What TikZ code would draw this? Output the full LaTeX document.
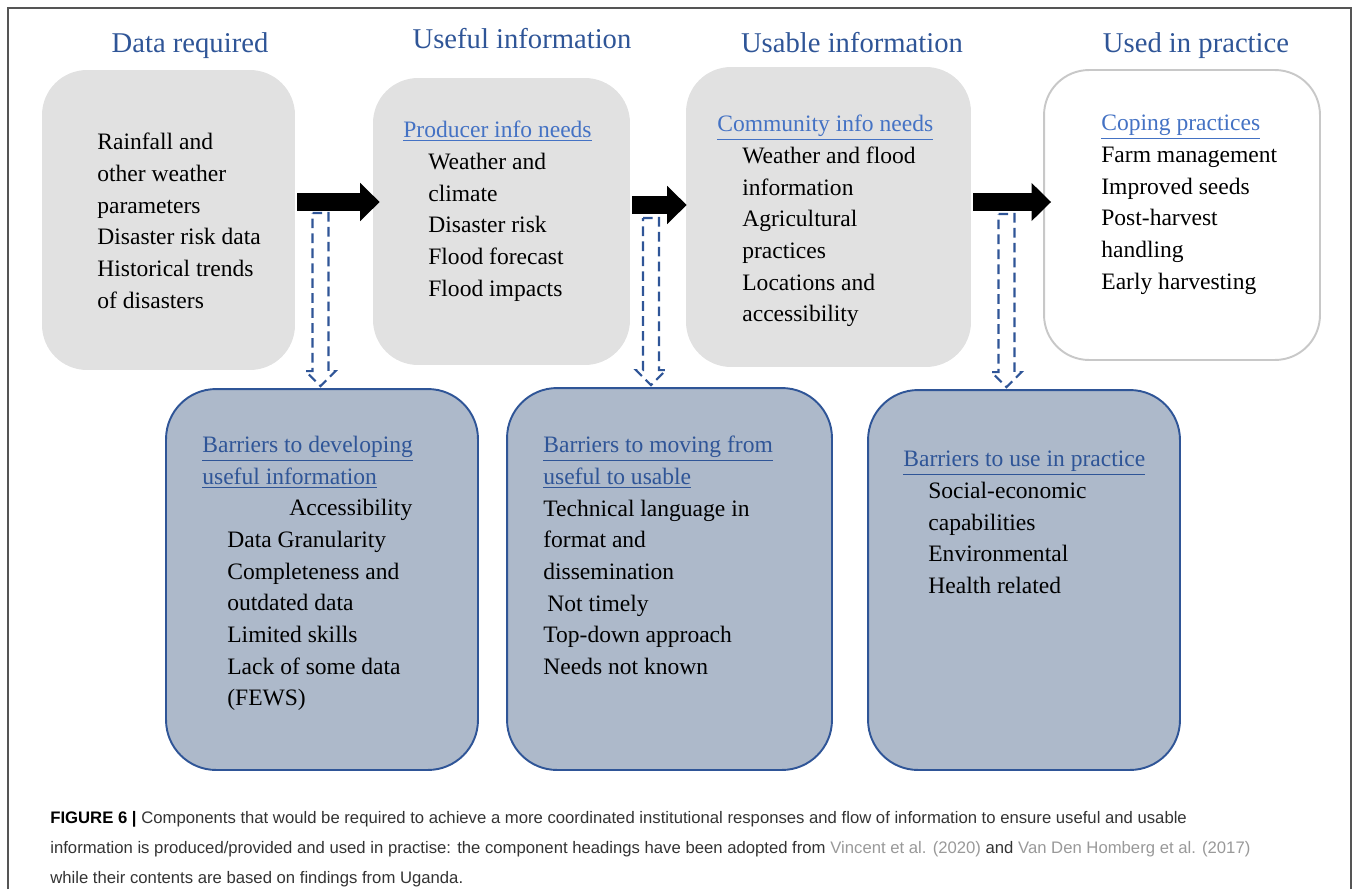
\documentclass[tikz,border=0pt]{standalone}
\usepackage{fontspec}
\setmainfont{Liberation Serif}
\newfontfamily\capfont{Liberation Sans}
\usetikzlibrary{arrows.meta, calc}

\definecolor{headblue}{HTML}{2F5597}
\definecolor{linkblue}{HTML}{4472C4}
\definecolor{boxgray}{HTML}{E1E1E1}
\definecolor{barrierfill}{HTML}{ADB9CA}
\definecolor{practiceline}{HTML}{C8C8C8}
\definecolor{framegray}{HTML}{555555}
\definecolor{captext}{HTML}{333333}
\definecolor{citegray}{HTML}{999999}

\tikzstyle{heading} = [text=headblue, inner sep=0, anchor=base, font=\fontsize{16.3}{19}\selectfont]
\tikzstyle{infobox} = [rectangle, rounded corners=0.9cm, fill=boxgray]
\tikzstyle{practicebox} = [rectangle, rounded corners=0.9cm, draw=practiceline, line width=1.1pt, fill=white]
\tikzstyle{barrierbox} = [rectangle, rounded corners=1cm, draw=headblue, line width=1.1pt, fill=barrierfill]
\tikzstyle{itemtext} = [align=left, anchor=north west, inner sep=0, font=\fontsize{13.4}{18}\selectfont]
\tikzstyle{captiontext} = [align=left, anchor=base west, inner sep=0, text=captext, font=\capfont\fontsize{9.5}{16.8}\selectfont]
\tikzstyle{flowarrow} = [line width=0.36cm, -{Triangle[length=0.39cm, width=0.74cm]}]
\tikzstyle{droparrow} = [draw=headblue, line width=1.2pt, dash pattern=on 5.5pt off 3pt]

\newcommand{\ind}{\hspace*{0.5cm}}
\newcommand{\subhead}[2]{\textcolor{#1}{\underline{#2}}}
\newcommand{\dropflow}[2]{%
  \draw [droparrow] ($(#1)+(-8,0)$) -- ($(#1)+(8,0)$) -- ($(#1 |- #2.north)+(8,-17)$)
    -- ($(#1 |- #2.north)+(15,-17)$) -- ($(#1 |- #2.north)+(0,-2)$)
    -- ($(#1 |- #2.north)+(-15,-17)$) -- ($(#1 |- #2.north)+(-8,-17)$) -- cycle;}

\begin{document}
\begin{tikzpicture}[x=0.02cm, y=-0.02cm]

        \useasboundingbox (0,0) rectangle (1358,889);
        \draw [framegray, line width=0.8pt] (8,889) -- (8,8) -- (1351,8) -- (1351,889);

        \node (h1) [heading] at (190,52) {Data required};
        \node (h2) [heading] at (522,48) {Useful information};
        \node (h3) [heading] at (852,52) {Usable information};
        \node (h4) [heading] at (1196,52) {Used in practice};

        \node (data) [infobox, minimum width=5.06cm, minimum height=6cm] at (168.5,220) {};
        \node (useful) [infobox, minimum width=5.14cm, minimum height=5.74cm] at (501.5,221.5) {};
        \node (usable) [infobox, minimum width=5.7cm, minimum height=6cm] at (828.5,217) {};
        \node (practice) [practicebox, minimum width=5.52cm, minimum height=5.8cm] at (1182,215) {};

        \node (bar1) [barrierbox, minimum width=6.24cm, minimum height=7.62cm] at (322,579.5) {};
        \node (bar2) [barrierbox, minimum width=6.5cm, minimum height=7.64cm] at (669.5,579) {};
        \node (bar3) [barrierbox, minimum width=6.24cm, minimum height=7.6cm] at (1024,580) {};

        \node (datatext) [itemtext] at (97,133) {Rainfall and\\other weather\\parameters\\Disaster risk data\\Historical trends\\of disasters};

        \node (usefultext) [itemtext] at (403,121) {\subhead{linkblue}{Producer info needs}\\ \ind Weather and\\ \ind climate\\ \ind Disaster risk\\ \ind Flood forecast\\ \ind Flood impacts};

        \node (usabletext) [itemtext] at (717,115) {\subhead{linkblue}{Community info needs}\\ \ind Weather and flood\\ \ind information\\ \ind Agricultural\\ \ind practices\\ \ind Locations and\\ \ind accessibility};

        \node (practicetext) [itemtext] at (1101,115) {\subhead{linkblue}{Coping practices}\\Farm management\\Improved seeds\\Post-harvest\\handling\\Early harvesting};

        \node (bar1text) [itemtext] at (202,436) {\subhead{headblue}{Barriers to developing}\\ \subhead{headblue}{useful information}\\ \hspace*{1.74cm}Accessibility\\ \ind Data Granularity\\ \ind Completeness and\\ \ind outdated data\\ \ind Limited skills\\ \ind Lack of some data\\ \ind (FEWS)};

        \node (bar2text) [itemtext] at (543,436) {\subhead{headblue}{Barriers to moving from}\\ \subhead{headblue}{useful to usable}\\Technical language in\\format and\\dissemination\\ \hspace*{0.08cm}Not timely\\Top-down approach\\Needs not known};

        \node (bar3text) [itemtext] at (903,451) {\subhead{headblue}{Barriers to use in practice}\\ \ind Social-economic\\ \ind capabilities\\ \ind Environmental\\ \ind Health related};

        \draw [flowarrow] ($(data.east)+(2,-18)$) -- ($(useful.west)+(7,-19.5)$);
        \draw [flowarrow] ($(useful.east)+(2,-16.5)$) -- ($(usable.west)+(1,-12)$);
        \draw [flowarrow] ($(usable.east)+(2,-15)$) -- ($(practice.west)+(8,-13)$);

        \coordinate (drop1) at (320.5,213);
        \coordinate (drop2) at (651,218);
        \coordinate (drop3) at (1006.5,214);
        \dropflow{drop1}{bar1}
        \dropflow{drop2}{bar2}
        \dropflow{drop3}{bar3}

        \node (caption) [captiontext] at (50,883) {{\color{black}\bfseries FIGURE 6 |} Components that would be required to achieve a more coordinated institutional responses and flow of information to ensure useful and usable\\information is produced/provided and used in practise: the component headings have been adopted from \textcolor{citegray}{Vincent et al. (2020)} and \textcolor{citegray}{Van Den Homberg et al. (2017)}\\while their contents are based on findings from Uganda.};

\end{tikzpicture}
\end{document}
